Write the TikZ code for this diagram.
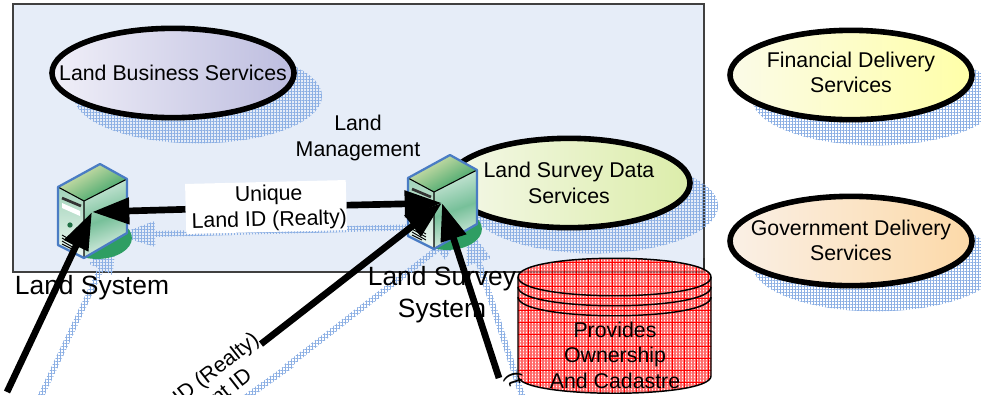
\documentclass[tikz,border=0pt]{standalone}
\usepackage{fontspec}
\setmainfont{Liberation Sans}
\usetikzlibrary{arrows.meta,shapes.geometric,patterns.meta}
\definecolor{shc}{HTML}{8DB0E4}
\definecolor{panel}{HTML}{E6EDF8}
\definecolor{srvblue}{HTML}{4A7CC4}
\definecolor{srvgreen}{HTML}{2E9E63}
\definecolor{dbred}{HTML}{FF6A6A}
\definecolor{lbsA}{HTML}{F0EFF8}\definecolor{lbsB}{HTML}{BDBDDF}
\definecolor{fdsA}{HTML}{FBFBE8}\definecolor{fdsB}{HTML}{FFFFA8}
\definecolor{gdsA}{HTML}{FAF0E6}\definecolor{gdsB}{HTML}{FCD9A8}
\definecolor{lsdA}{HTML}{F4F8E8}\definecolor{lsdB}{HTML}{DCEDAA}
\tikzset{
  txt/.style={font=\fontsize{16}{19.1}\selectfont,align=center,inner sep=0pt,text=black},
  bigtxt/.style={font=\fontsize{19.8}{24}\selectfont,align=center,inner sep=0pt,text=black},
  svc/.style={draw=black,line width=4.2pt,shading angle=-45},
  shadowfill/.style={preaction={pattern={Lines[angle=0,distance=2.25pt,line width=.45pt]},pattern color=shc},
     pattern={Lines[angle=90,distance=2.25pt,line width=.45pt]},pattern color=shc},
  shell/.style={shadowfill,draw=none,minimum width=186pt,minimum height=71pt,ellipse,inner sep=0pt},
  arr/.style={line width=5pt,draw=black,-{Triangle[length=28pt,width=19pt]}},
  serverpic/.pic={
    \fill[srvgreen] (97,238) ellipse [x radius=26.2pt,y radius=15.7pt];
    \shade[top color=srvgreen!45!white,bottom color=srvgreen!8!white]
       (58,187) -- (84,201) -- (84,258) -- (58,245) -- cycle;
    \shade[left color=srvgreen!25!white,right color=srvgreen!15!white,middle color=srvgreen!65!white,shading angle=20]
       (84,201) -- (127,179) -- (127,233) -- (84,258) -- cycle;
    \shade[top color=black!30!yellow!30!white,bottom color=srvgreen,shading angle=30]
       (58,187) -- (100,164) -- (127,179) -- (84,201) -- cycle;
    \draw[black,line width=.8pt] (58,187) -- (84,201) -- (127,179) (84,201) -- (84,258);
    \draw[black!80,line width=2pt] (62,198) -- (81,206);
    \fill[white] (62,203) -- (80,211) -- (80,216) -- (62,208) -- cycle;
    \fill[srvgreen!70!black] (70,225) circle [radius=2pt];
    \draw[black,line width=.7pt] (62,235) -- (76,243) (62,238) -- (76,246) (62,241) -- (76,249) (62,244) -- (72,249);
    \draw[srvblue,line width=1.7pt,line join=round] (58,187) -- (100,164) -- (127,179) -- (127,233) -- (84,258) -- (58,245) -- cycle;
  }
}
\newcommand{\shadowhead}[3]{\path[shadowfill,shift={(#1)},rotate=#2]
  (0,0) -- (-38,13) -- (-38,3) -- (-#3,3) -- (-#3,-3) -- (-38,-3) -- (-38,-13) -- cycle;}
\newcommand{\dbpath}{(518,277) .. controls (518,252) and (711,252) .. (711,277) -- (711,376)
   .. controls (711,399) and (518,399) .. (518,376) -- cycle}
\begin{document}
\begin{tikzpicture}[x=0.75pt,y=-0.75pt]
\useasboundingbox (0,0) rectangle (981,394);
\clip (0,0) rectangle (981,394);
% panel
\path[fill=panel] (13,4) rectangle (704,272);
\draw[black!75,line width=.8pt] (13,272) -- (13,4) -- (704,4) -- (704,272) -- cycle;
% shadows of services
\node[shell] (sh1) at (198,96) {};
\node[shell] (sh2) at (876,98) {};
\node[shell] (sh3) at (876,264) {};
\node[shell] (sh4) at (594,206) {};
% shadows of connectors
\shadowhead{117,235}{64.7}{199}
\shadowhead{117,235}{181.5}{350}
\shadowhead{467,226}{1.5}{38}
\shadowhead{467,226}{37.9}{229}
\path[shadowfill] (234,402) -- (290,362) -- (294,367) -- (238,407) -- cycle;
\shadowhead{467,226}{108}{184}
% service ellipses
\path[svc,left color=lbsA,right color=lbsB] (173,73) ellipse [x radius=90.75pt,y radius=33.5pt];
\path[svc,left color=fdsA,right color=fdsB] (851,75) ellipse [x radius=90.75pt,y radius=33.5pt];
\path[svc,left color=gdsA,right color=gdsB] (851,241) ellipse [x radius=90.75pt,y radius=33.5pt];
\path[svc,left color=lsdA,right color=lsdB] (569,183) ellipse [x radius=90.75pt,y radius=33.5pt];
\node[txt] (lbs) at (173,73) {Land Business Services};
\node[txt] (fds) at (851,72.5) {Financial Delivery\\Services};
\node[txt] (gds) at (851,240.5) {Government Delivery\\Services};
\node[txt] (lsd) at (569,183) {Land Survey Data\\Services};
% database
\path[fill=white] \dbpath;
\begin{scope}
\clip \dbpath;
\fill[pattern={Lines[angle=0,distance=2.25pt,line width=1pt]},pattern color=dbred] (510,250) rectangle (720,400);
\fill[pattern={Lines[angle=90,distance=2.25pt,line width=1pt]},pattern color=dbred] (510,250) rectangle (720,400);
\fill[pattern={Lines[angle=0,distance=9pt,line width=.6pt]},pattern color=red] (510,250) rectangle (720,400);
\fill[pattern={Lines[angle=90,distance=9pt,line width=.6pt]},pattern color=red] (510,250) rectangle (720,400);
\end{scope}
\draw[black,opacity=.3,line width=.8pt] (518,272) -- (704,272) -- (704,258);
\draw[black,line width=1.1pt] \dbpath;
\draw[black,line width=1.1pt] (518,277) .. controls (518,302) and (711,302) .. (711,277);
\draw[black,line width=1.1pt] (518,287) .. controls (518,312) and (711,312) .. (711,287);
\draw[black,line width=1.1pt] (518,297) .. controls (518,322) and (711,322) .. (711,297);
\node[txt] (db) at (615,355) {Provides\\Ownership\\And Cadastre};
% servers
\pic (srva) at (0,0) {serverpic};
\pic (srvb) at (350,-9) {serverpic};
% anchors
\coordinate (lsTip) at (92,212);
\coordinate (lssTip) at (442,203);
\coordinate (leftTail) at (7,392);
\coordinate (idTail) at (261,344);
\coordinate (ownTail) at (499,378);
% labels
\node[fill=white,inner sep=0pt,rotate=1.4,minimum width=120.5pt,minimum height=37.5pt] (lbl) at (266,207) {};
\node[txt,rotate=1.4] (lbltxt) at (269,208) {Unique\\Land ID (Realty)};
\node[txt] (mgmt) at (358,138) {Land\\Management};
\node[bigtxt] (lsys) at (92,288) {Land System};
\node[bigtxt] (lsurv) at (442,295) {Land Survey\\System};
\node[txt,anchor=east,rotate=38] (idr) at (257,338) {ID (Realty)};
\node[txt,anchor=east,rotate=38] (ntid) at (249,372) {nt ID};
\node[txt,anchor=west,rotate=-72] (own) at (511,373) {(t};
% connectors
\draw[arr] (lbl) -- (lsTip);
\draw[arr] (lbl) -- (lssTip);
\draw[arr] (leftTail) -- (lsTip);
\draw[arr] (idTail) -- (lssTip);
\draw[arr] (ownTail) -- (lssTip);
\end{tikzpicture}
\end{document}
